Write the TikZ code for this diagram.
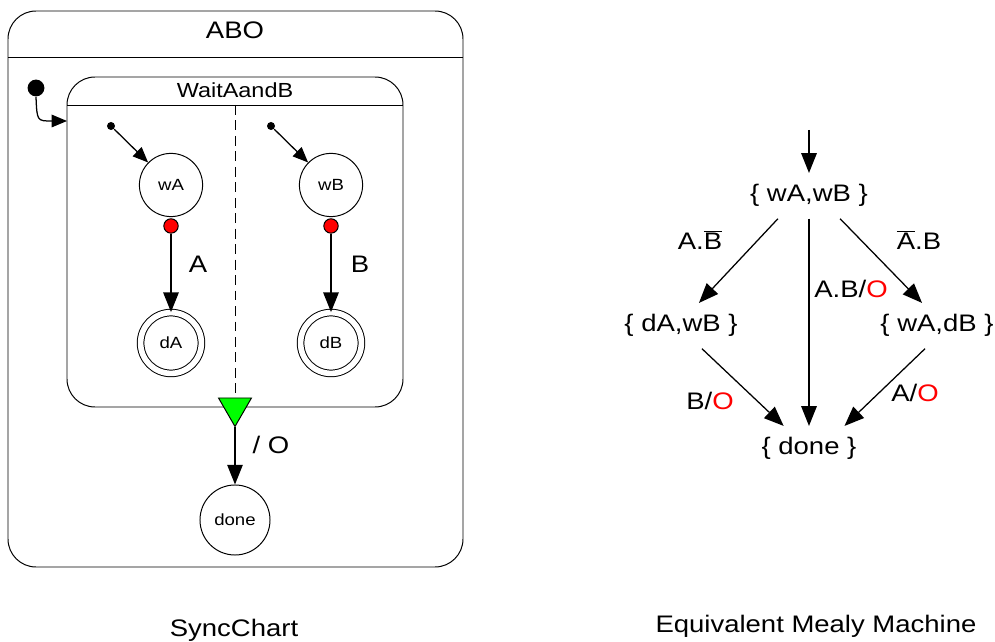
\documentclass[tikz,border=0pt]{standalone}
\usepackage{fontspec}
\setmainfont{Liberation Sans}[FakeStretch=1.15]
\usetikzlibrary{arrows.meta,shapes.geometric,calc}

\newcommand{\nsig}[1]{$\overline{\hbox{#1}}$}

\begin{document}
\begin{tikzpicture}[x=0.025cm, y=-0.025cm, line width=0.7pt,
    big/.style={font=\fontsize{17}{20}\selectfont},
    small/.style={font=\fontsize{11.5}{14}\selectfont},
    lbl/.style={big, anchor=base, inner sep=0pt},
    st/.style={circle, draw, small, minimum size=1.58cm, inner sep=0pt},
    fin/.style={st, double, double distance=4pt, minimum size=1.52cm},
    hook/.style={circle, draw, fill=red, minimum size=0.36cm, inner sep=0pt},
    inidot/.style={circle, fill=black, minimum size=#1, inner sep=0pt},
    trig/.style={regular polygon, regular polygon sides=3, shape border rotate=180,
      draw, fill=green, minimum size=0.95cm, inner sep=0pt},
    mst/.style={big, anchor=base, inner xsep=2pt, inner ysep=8pt},
    arr/.style={-{Triangle[length=14pt, width=11pt]}, line width=0.9pt},
    sarr/.style={-{Triangle[length=11pt, width=9pt]}, line width=0.9pt}]
  \useasboundingbox (0,0) rectangle (995,642);

  \draw[rounded corners=0.7cm] (8,11) rectangle (463,567);
  \draw (8,57) -- (463,57);
  \node[lbl] (abo) at (235,39) {ABO};

  \draw[rounded corners=0.7cm] (67,77) rectangle (403,407);
  \draw (67,105) -- (403,105);
  \node[font=\fontsize{14.5}{17}\selectfont, anchor=base, inner sep=0pt] (wab) at (235,98) {WaitAandB};

  \node[inidot=0.42cm] (init) at (36,88) {};
  \coordinate (entry) at (67,121);
  \draw[sarr] (init.south) .. controls (37,121) .. (entry);

  \node[inidot=0.2cm] (ia) at (111,126) {};
  \node[st] (wA) at (171,185) {wA};
  \node[hook] (ha) at (171,226) {};
  \node[fin] (dA) at (171,343) {dA};
  \draw[sarr] (ia) -- (wA);
  \draw[arr] (ha) -- (dA);
  \node[lbl] (la) at (198,273) {A};

  \node[inidot=0.2cm] (ib) at (271,126) {};
  \node[st] (wB) at (331,185) {wB};
  \node[hook] (hb) at (331,226) {};
  \node[fin] (dB) at (331,343) {dB};
  \draw[sarr] (ib) -- (wB);
  \draw[arr] (hb) -- (dB);
  \node[lbl] (lb) at (360,273) {B};

  \coordinate (split) at (235,105);
  \node[trig] (fork) at (235,407.5) {};
  \draw[dash pattern=on 7pt off 4pt] (split) -- (fork.north);
  \node[st, minimum size=1.75cm] (done) at (235,520) {done};
  \draw[arr] (fork.south) -- (done);
  \node[lbl] (lo) at (271,454) {/ O};

  \node[lbl] (sync) at (234,637) {SyncChart};

  \coordinate (start) at (809,130);
  \node[mst] (ww) at (809,202) {\{ wA,wB \}};
  \node[mst] (dw) at (681,332) {\{ dA,wB \}};
  \node[mst] (wd) at (937,332) {\{ wA,dB \}};
  \node[mst] (dn) at (809,455) {\{ done \}};

  \draw[arr] (start) -- (ww);
  \draw[arr] ($(ww.south)!.5!(ww.south west)$) -- ($(dw.north)!.3!(dw.north east)$);
  \draw[arr] ($(ww.south)!.5!(ww.south east)$) -- ($(wd.north)!.25!(wd.north west)$);
  \draw[arr] (ww) -- (dn);
  \draw[arr] ($(dw.south)!.35!(dw.south east)$) -- ($(dn.north)!.5!(dn.north west)$);
  \draw[arr] ($(wd.south)!.2!(wd.south west)$) -- ($(dn.north)!.7!(dn.north east)$);

  \node[lbl] (l1) at (700,250) {A.\nsig{B}};
  \node[lbl] (l2) at (919,250) {\nsig{A}.B};
  \node[lbl] (l3) at (851,298) {A.B/\textcolor{red}{O}};
  \node[lbl] (l4) at (710,410) {B/\textcolor{red}{O}};
  \node[lbl] (l5) at (915,402) {A/\textcolor{red}{O}};

  \node[lbl] (mealy) at (816,632) {Equivalent Mealy Machine};
\end{tikzpicture}
\end{document}
